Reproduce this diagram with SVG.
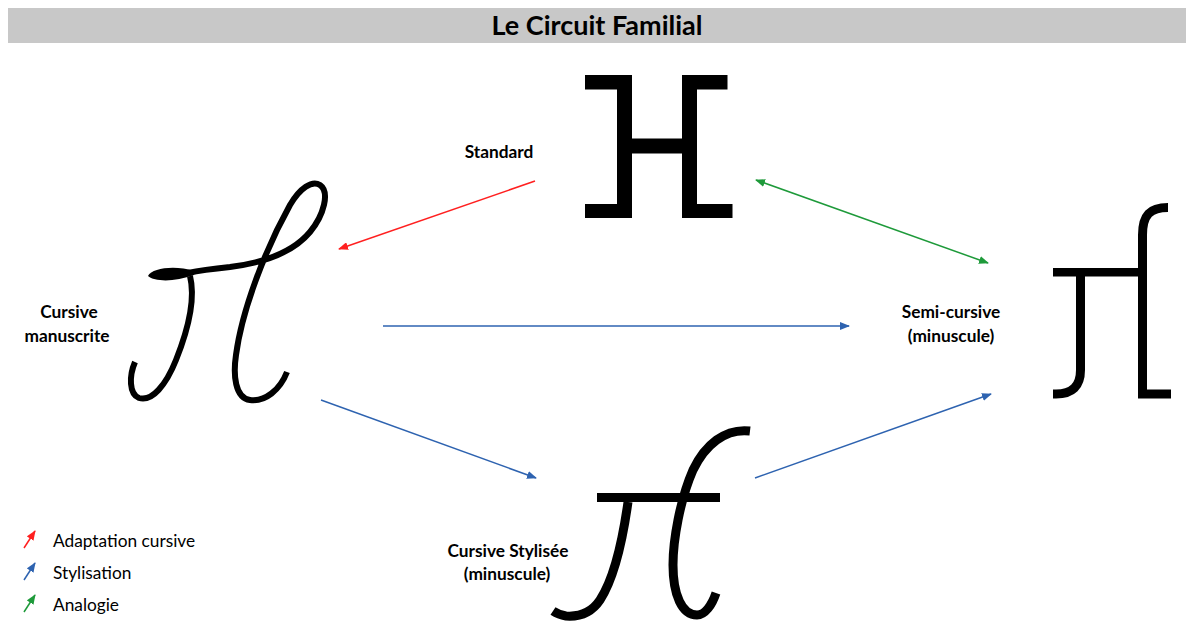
<svg xmlns="http://www.w3.org/2000/svg" width="1186" height="626" viewBox="0 0 1186 626">
<style>
.title{font-family:Lato,"Liberation Sans",sans-serif;font-weight:bold;font-size:27px;fill:#000}
.lbl{font-family:Lato,"Liberation Sans",sans-serif;font-weight:bold;font-size:17.3px;fill:#000}
.leg{font-family:Lato,"Liberation Sans",sans-serif;font-size:17.3px;fill:#000}
.glyph{fill:none;stroke:#000;stroke-linecap:butt}
.red{stroke:#FF2020;stroke-width:1.5;fill:none}
.blue{stroke:#2E63B0;stroke-width:1.5;fill:none}
.green{stroke:#1E9A3A;stroke-width:1.5;fill:none}
</style>
<defs>
<marker id="ar" markerUnits="userSpaceOnUse" markerWidth="10" markerHeight="8" refX="9" refY="4" orient="auto-start-reverse"><path d="M0,0 L10,4 L0,8 Z" fill="#FF2020"/></marker>
<marker id="ab" markerUnits="userSpaceOnUse" markerWidth="10" markerHeight="8" refX="9" refY="4" orient="auto-start-reverse"><path d="M0,0 L10,4 L0,8 Z" fill="#2E63B0"/></marker>
<marker id="ag" markerUnits="userSpaceOnUse" markerWidth="10" markerHeight="8" refX="9" refY="4" orient="auto-start-reverse"><path d="M0,0 L10,4 L0,8 Z" fill="#1E9A3A"/></marker>
</defs>
<rect width="1186" height="626" fill="#fff"/>
<g id="title">
<rect x="8" y="8" width="1178" height="35" fill="#C8C8C8"/>
<text class="title" x="597" y="35" text-anchor="middle">Le Circuit Familial</text>
</g>
<g id="standard">
<rect x="585" y="75" width="47" height="14.5"/>
<rect x="617" y="75" width="15" height="143"/>
<rect x="585" y="204" width="47" height="14"/>
<rect x="631" y="138.5" width="52" height="15"/>
<rect x="682" y="75" width="15" height="143"/>
<rect x="682" y="75" width="45.5" height="14.5"/>
<rect x="682" y="204" width="50.5" height="14"/>
<text class="lbl" x="499" y="158" text-anchor="middle">Standard</text>
</g>
<g id="cursive-manuscrite">
<path class="glyph" stroke-width="6" d="M287,372 C280,390 265,402 250,400 C235,398 233,375 236,355 C242,310 265,250 290,205 C300,188 312,180 320,185 C330,192 324,215 310,232 C295,250 270,262 230,267 C210,269 197,271 188,273"/>
<path class="glyph" stroke-width="6" d="M190,276 C196,300 188,330 176,360 C166,385 152,402 139,398 C129,394 129,376 135,362"/>
<path d="M148,276 C152,268 175,265 194,271 L194,275 C175,282 155,282 148,276 Z" fill="#000"/>
<text class="lbl" x="69" y="318" text-anchor="middle">Cursive</text>
<text class="lbl" x="67" y="342" text-anchor="middle">manuscrite</text>
</g>
<g id="semi-cursive">
<rect x="1053" y="268" width="90" height="8.5"/>
<path class="glyph" stroke-width="9" d="M1080.5,276 L1080.5,370 Q1080.5,394 1056,394 L1053,394"/>
<path class="glyph" stroke-width="9" stroke-linejoin="miter" d="M1168,207.5 C1150,207.5 1142.5,215 1142.5,235 L1142.5,394 L1171,394"/>
<text class="lbl" x="951" y="318" text-anchor="middle">Semi-cursive</text>
<text class="lbl" x="951" y="342" text-anchor="middle">(minuscule)</text>
</g>
<g id="cursive-stylisee">
<rect x="597" y="493" width="123" height="9"/>
<path class="glyph" stroke-width="9" d="M628,502 C622,545 613,580 600,600 C592,612 580,617 566,616 C560,615 556,613 553,611"/>
<path class="glyph" stroke-width="9" d="M750,431 C725,428 705,445 693,470 C680,500 673,540 673,565 C673,595 682,615 697,615 C705,615 712,605 716,593"/>
<text class="lbl" x="508" y="557" text-anchor="middle">Cursive Stylisée</text>
<text class="lbl" x="507" y="580" text-anchor="middle">(minuscule)</text>
</g>
<g id="connectors">
<line class="red" x1="535" y1="181" x2="339" y2="249" marker-end="url(#ar)"/>
<line class="green" x1="756" y1="180" x2="988" y2="263" marker-start="url(#ag)" marker-end="url(#ag)"/>
<line class="blue" x1="383" y1="326" x2="849" y2="326" marker-end="url(#ab)"/>
<line class="blue" x1="321" y1="400" x2="536" y2="478" marker-end="url(#ab)"/>
<line class="blue" x1="755" y1="478" x2="991" y2="394" marker-end="url(#ab)"/>
</g>
<g id="legend">
<line class="red" x1="24" y1="548" x2="35" y2="531" marker-end="url(#ar)"/>
<text class="leg" x="53" y="547">Adaptation cursive</text>
<line class="blue" x1="24" y1="580" x2="35" y2="563" marker-end="url(#ab)"/>
<text class="leg" x="53" y="579">Stylisation</text>
<line class="green" x1="24" y1="612" x2="35" y2="595" marker-end="url(#ag)"/>
<text class="leg" x="53" y="611">Analogie</text>
</g>
</svg>
